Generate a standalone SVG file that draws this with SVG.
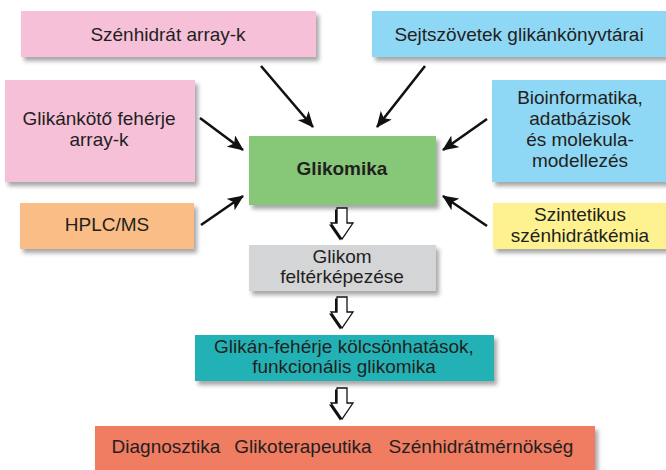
<svg xmlns="http://www.w3.org/2000/svg" width="666" height="470" viewBox="0 0 666 470">
<defs>
<filter id="sh" x="-10%" y="-20%" width="130%" height="150%">
<feDropShadow dx="3" dy="4" stdDeviation="2" flood-color="#000" flood-opacity="0.35"/>
</filter>
<marker id="ah" markerWidth="16" markerHeight="14" refX="15" refY="7" orient="auto" markerUnits="userSpaceOnUse" viewBox="0 0 16 14">
<path d="M0,0 L16,7 L0,14 L4,7 z" fill="#111"/>
</marker>
<polygon id="blk" points="-5,0 5,0 5,15 11,15 0,31 -11,15 -5,15"/>
</defs>
<style>
text{font-family:"Liberation Sans",Arial,sans-serif;font-size:19px;fill:#231f20;text-anchor:middle}
.b{font-weight:bold}
.con line{stroke:#111;stroke-width:2.6;marker-end:url(#ah)}
.hs{fill:#111}
.hw{fill:#fff;stroke:#111;stroke-width:1.3;stroke-linejoin:miter}
rect{filter:url(#sh)}
</style>
<g id="n1"><rect x="21" y="11" width="295" height="46" fill="#f6c0d9"/><text x="168" y="41">Szénhidrát array-k</text></g>
<g id="n2"><rect x="372" y="11" width="296" height="46" fill="#8fd8f5"/><text x="519" y="41">Sejtszövetek glikánkönyvtárai</text></g>
<g id="n3"><rect x="5" y="80" width="190" height="102" fill="#f6c0d9"/><text x="99" y="125">Glikánkötő fehérje</text><text x="99" y="146">array-k</text></g>
<g id="n4"><rect x="20" y="203" width="174" height="46" fill="#fbbd86"/><text x="107" y="231">HPLC/MS</text></g>
<g id="n5"><rect x="249" y="136" width="187" height="69" fill="#86c878"/><text class="b" x="342" y="175">Glikomika</text></g>
<g id="n6"><rect x="492" y="80" width="176" height="102" fill="#8fd8f5"/><text x="580" y="104">Bioinformatika,</text><text x="580" y="125">adatbázisok</text><text x="580" y="146">és molekula-</text><text x="580" y="167">modellezés</text></g>
<g id="n7"><rect x="493" y="203" width="175" height="46" fill="#fdf28f"/><text x="580" y="221">Szintetikus</text><text x="580" y="242">szénhidrátkémia</text></g>
<g id="n8"><rect x="249" y="245" width="187" height="46" fill="#d4d5d7"/><text x="342" y="263">Glikom</text><text x="342" y="283">feltérképezése</text></g>
<g id="n9"><rect x="195" y="335" width="299" height="46" fill="#22b2b5"/><text x="344" y="353">Glikán-fehérje kölcsönhatások,</text><text x="344" y="373">funkcionális glikomika</text></g>
<g id="n10"><rect x="95" y="426" width="500" height="46" fill="#f07b62"/><text x="166" y="453">Diagnosztika</text><text x="303" y="453">Glikoterapeutika</text><text x="481" y="453">Szénhidrátmérnökség</text></g>
<g id="connectors" class="con">
<line x1="261" y1="66" x2="313" y2="127"/>
<line x1="425" y1="66" x2="377" y2="127"/>
<line x1="200" y1="118" x2="243" y2="150"/>
<line x1="201" y1="225" x2="243" y2="196"/>
<line x1="487" y1="119" x2="443" y2="150"/>
<line x1="487" y1="226" x2="443" y2="196"/>
<g transform="translate(342,208)"><use href="#blk" class="hs" transform="translate(-2,1.5)"/><use href="#blk" class="hw"/></g>
<g transform="translate(342,297)"><use href="#blk" class="hs" transform="translate(-2,1.5)"/><use href="#blk" class="hw"/></g>
<g transform="translate(342,388)"><use href="#blk" class="hs" transform="translate(-2,1.5)"/><use href="#blk" class="hw"/></g>
</g>
</svg>
